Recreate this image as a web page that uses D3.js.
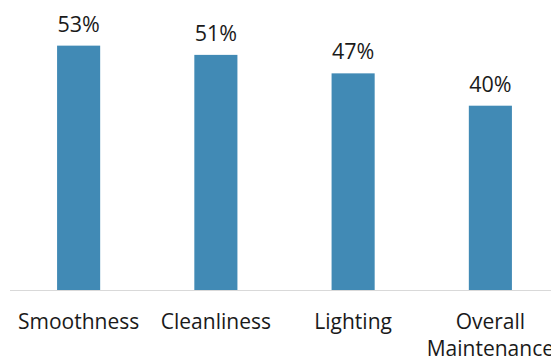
<!DOCTYPE html>
<html>
<head>
<meta charset="utf-8">
<script src="https://cdn.jsdelivr.net/npm/d3@7/dist/d3.min.js"></script>
<style>
  html, body { margin: 0; padding: 0; background: #fff; }
  svg { display: block; font-family: "Open Sans", sans-serif; }
</style>
</head>
<body>
<svg id="chart" width="551" height="360"></svg>
<script>
// Share of respondents rating each aspect positively
const categories = ["Smoothness", "Cleanliness", "Lighting", "Overall Maintenance"];
const values = [53, 51, 47, 40];
const categoryLines = [["Smoothness"], ["Cleanliness"], ["Lighting"], ["Overall", "Maintenance"]];

const svg = d3.select("#chart");
const baseline = 290.5;

const x = d3.scaleBand()
  .domain(categories)
  .range([10, 559])
  .paddingInner(0.686)
  .paddingOuter(0.343);

const y = d3.scaleLinear()
  .domain([0, 60])
  .range([baseline, baseline - 60 * 4.62]);

// bars
svg.append("g")
  .selectAll("rect")
  .data(categories)
  .join("rect")
  .attr("x", d => x(d))
  .attr("y", (d, i) => y(values[i]))
  .attr("width", x.bandwidth())
  .attr("height", (d, i) => y(0) - y(values[i]))
  .attr("fill", "#418ab5");

// category axis line
svg.append("line")
  .attr("x1", 10).attr("x2", 551)
  .attr("y1", baseline).attr("y2", baseline)
  .attr("stroke", "#d9d9d9")
  .attr("stroke-width", 1.2);

// value labels
svg.append("g")
  .selectAll("text")
  .data(categories)
  .join("text")
  .attr("x", d => x(d) + x.bandwidth() / 2)
  .attr("y", (d, i) => y(values[i]) - 14)
  .attr("text-anchor", "middle")
  .attr("font-size", 21.5)
  .attr("fill", "#1a1a1a")
  .text((d, i) => values[i] + "%");

// category labels
const labels = svg.append("g")
  .selectAll("text")
  .data(categories)
  .join("text")
  .attr("x", d => x(d) + x.bandwidth() / 2)
  .attr("y", 328.5)
  .attr("text-anchor", "middle")
  .attr("font-size", 21)
  .attr("fill", "#1a1a1a");

labels.selectAll("tspan")
  .data((d, i) => categoryLines[i])
  .join("tspan")
  .attr("x", function () { return d3.select(this.parentNode).attr("x"); })
  .attr("dy", (d, j) => j === 0 ? 0 : 27)
  .text(d => d);
</script>
</body>
</html>
